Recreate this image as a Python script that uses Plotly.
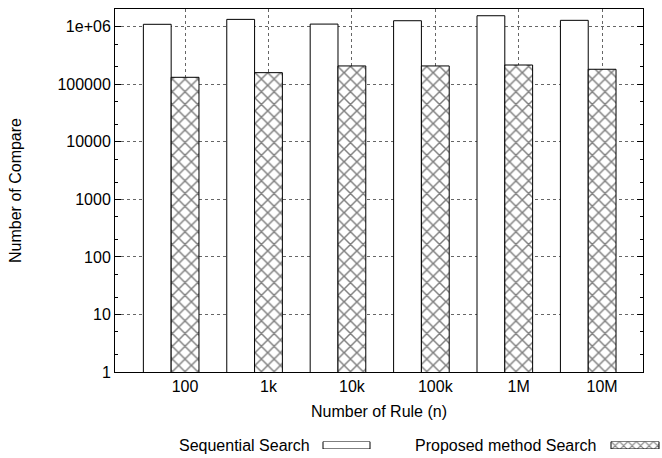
import numpy as np
import plotly.graph_objects as go

# ---- data ----
categories = ["100", "1k", "10k", "100k", "1M", "10M"]
sequential = [1.10e6, 1.34e6, 1.11e6, 1.27e6, 1.55e6, 1.29e6]
proposed = [1.32e5, 1.59e5, 2.08e5, 2.08e5, 2.16e5, 1.82e5]
series_names = ["Sequential Search", "Proposed method Search"]
y_tickvals = [1, 10, 100, 1000, 10000, 100000, 1000000]
y_ticktext = ["1", "10", "100", "1000", "10000", "100000", "1e+06"]

W, H = 662, 458
PL, PR, PT, PB = 115, 643, 9, 372  # plot area in px

FONT = "Liberation Sans, Arial, Helvetica, sans-serif"
FS = 16

idx = np.arange(len(categories))
bw = 1 / 3

fig = go.Figure()
fig.add_trace(go.Bar(
    x=idx, y=sequential, name=series_names[0], width=bw, offset=-1.5 * bw,
    marker=dict(color="white", line=dict(color="black", width=1)),
    showlegend=False,
))
fig.add_trace(go.Bar(
    x=idx, y=proposed, name=series_names[1], width=bw, offset=-0.5 * bw,
    marker=dict(color="white", line=dict(color="black", width=1),
                pattern=dict(shape="x", fgcolor="black", bgcolor="white",
                             size=9, solidity=0.3)),
    showlegend=False,
))

# legend key samples (on a hidden overlay axis spanning the figure width)
key_y0, key_y1 = 441.5, 449.0
keys = [(323, 370), (611, 659)]
for i, (x0, x1) in enumerate(keys):
    mk = dict(color="white", line=dict(color="black", width=1))
    if i == 1:
        mk["pattern"] = dict(shape="x", fgcolor="black", bgcolor="white", size=6, solidity=0.35)
    fig.add_trace(go.Bar(x=[(x0 + x1) / 2], y=[1], width=[x1 - x0], marker=mk,
                         xaxis="x2", yaxis="y2", showlegend=False, hoverinfo="skip"))

minor_vals = [m * 10 ** d for d in range(0, 7) for m in (2, 5)]

fig.update_layout(
    width=W, height=H,
    margin=dict(l=0, r=0, t=0, b=0),
    paper_bgcolor="white", plot_bgcolor="white",
    font=dict(family=FONT, size=FS, color="black"),
    barmode="overlay",
    showlegend=False,
    xaxis=dict(
        domain=[PL / W, PR / W],
        range=[-0.84, 5.49],
        tickvals=idx, ticktext=categories,
        showgrid=True, gridcolor="#666", griddash="dot", gridwidth=1,
        showline=True, linecolor="black", linewidth=1, mirror=True,
        ticks="", zeroline=False,
        title=dict(text="Number of Rule (n)", standoff=11, font=dict(size=FS)),
        automargin=False,
    ),
    yaxis=dict(
        domain=[(H - PB) / H, (H - PT) / H],
        type="log", range=[0, np.log10(2.03e6)],
        tickvals=y_tickvals, ticktext=y_ticktext,
        showgrid=True, gridcolor="#666", griddash="dot", gridwidth=1,
        showline=True, linecolor="black", linewidth=1, mirror="ticks",
        ticks="inside", ticklen=6, tickcolor="black",
        minor=dict(tickvals=minor_vals, ticks="inside", ticklen=3,
                   tickcolor="black", showgrid=False),
        zeroline=False,
        title=dict(text="Number of Compare", standoff=31, font=dict(size=FS)),
        automargin=False,
    ),
    xaxis2=dict(domain=[0, 1], range=[0, W], visible=False, anchor="y2",
                fixedrange=True),
    yaxis2=dict(domain=[(H - key_y1) / H, (H - key_y0) / H], range=[0, 1],
                visible=False, anchor="x2", fixedrange=True),
    annotations=[
        dict(text=series_names[0], x=312 / W, y=(H - 445) / H, xref="paper", yref="paper",
             xanchor="right", yanchor="middle", showarrow=False, font=dict(size=FS)),
        dict(text=series_names[1], x=598 / W, y=(H - 445) / H, xref="paper", yref="paper",
             xanchor="right", yanchor="middle", showarrow=False, font=dict(size=FS)),
    ],
)

fig.write_html("out.html")
